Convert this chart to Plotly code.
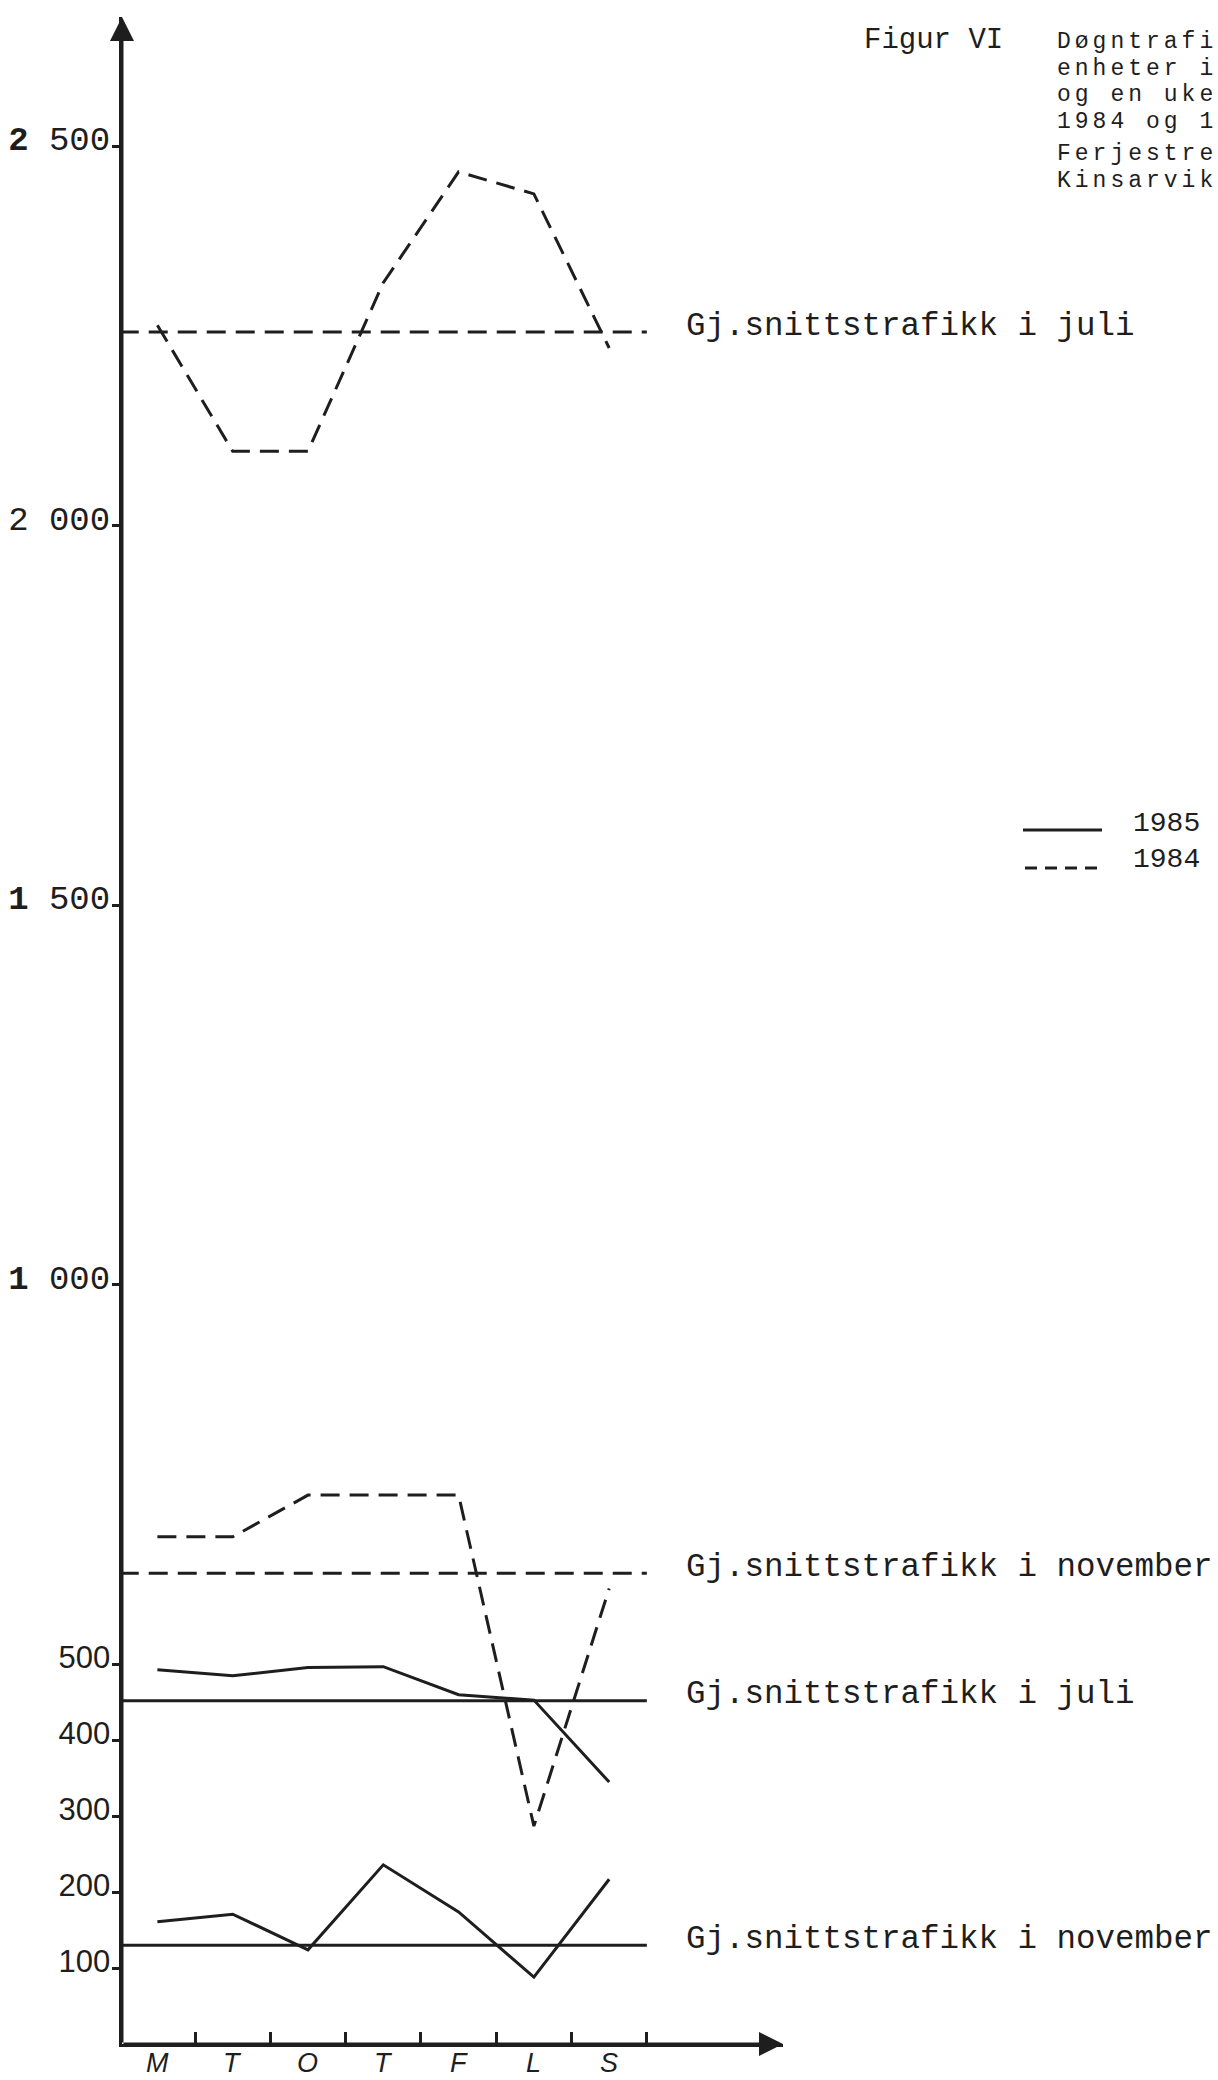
import plotly.graph_objects as go

# ---------------- data ----------------
days = ["M", "T", "O", "T", "F", "L", "S"]

juli_1984 = [2264, 2098, 2098, 2320, 2466, 2437, 2234]
nov_1984 = [668, 668, 723, 723, 723, 287, 600]
juli_1985 = [493, 485, 496, 497, 460, 453, 345]
nov_1985 = [161, 171, 124, 236, 174, 88, 217]

snitt_juli_1984 = 2255
snitt_nov_1984 = 620
snitt_juli_1985 = 452
snitt_nov_1985 = 130

y_tick_values = [100, 200, 300, 400, 500, 1000, 1500, 2000, 2500]
y_tick_labels = ["100", "200", "300", "400", "500", "1 000", "1 500", "2 000", "2 500"]

label_juli = "Gj.snittstrafikk i juli"
label_nov = "Gj.snittstrafikk i november"

figure_label = "Figur VI"
title_lines = ["Døgntrafi", "enheter i", "og en uke", "1984 og 1", "Ferjestre", "Kinsarvik"]

legend_names = ["1985", "1984"]

# ---------------- styling / geometry ----------------
W, H = 1218, 2080
PLOT_L, PLOT_R, PLOT_T, PLOT_B = 122, 783, 17, 2044   # window pixels
ML, MT = PLOT_L, PLOT_T
MR, MB = W - PLOT_R, H - PLOT_B
PW, PH = PLOT_R - PLOT_L, PLOT_B - PLOT_T
X_MIN = -0.47
X_MAX = X_MIN + PW / 75.3
Y_MAX = 2670

INK = "#1e1e1e"
TYPE = "Liberation Mono"
HAND = "Liberation Sans"
DASH = "19px,10px"
LW = 3


def wx(px):   # window pixel x -> paper
    return (px - PLOT_L) / PW


def wy(py):   # window pixel y -> paper
    return 1 - (py - PLOT_T) / PH


x = list(range(len(days)))
span = [-0.5, len(days) - 0.5]

fig = go.Figure()


def add_line(yvals, dashed, name):
    fig.add_trace(go.Scatter(
        x=x, y=yvals, mode="lines", name=name, showlegend=False,
        line=dict(color=INK, width=LW, dash=DASH if dashed else "solid"),
        hoverinfo="skip"))


def add_avg(val, dashed, name):
    fig.add_trace(go.Scatter(
        x=span, y=[val, val], mode="lines", name=name, showlegend=False,
        line=dict(color=INK, width=LW, dash=DASH if dashed else "solid"),
        hoverinfo="skip"))


add_line(juli_1984, True, "1984 juli")
add_line(nov_1984, True, "1984 november")
add_line(juli_1985, False, "1985 juli")
add_line(nov_1985, False, "1985 november")
add_avg(snitt_juli_1984, True, "1984 snitt juli")
add_avg(snitt_nov_1984, True, "1984 snitt november")
add_avg(snitt_juli_1985, False, "1985 snitt juli")
add_avg(snitt_nov_1985, False, "1985 snitt november")

# tick labels: large values typewritten, small values hand lettered
ticktext = []
for v, t in zip(y_tick_values, y_tick_labels):
    if v < 1000:
        ticktext.append('<span style="font-family:Liberation Sans;font-size:31px">%s</span>' % t)
    else:
        first, rest = t.split(" ")
        ticktext.append("<b>%s</b> %s" % (first, rest) if (first != "2" or v == 2500) else t)

annotations = []
# day labels under the x axis (hand lettered)
for i, d in zip(x, days):
    annotations.append(dict(x=i, y=wy(2063), xref="x", yref="paper", text="<i>%s</i>" % d,
                            showarrow=False, xanchor="center", yanchor="middle",
                            font=dict(family=HAND, size=27, color=INK)))

# average labels
for val, txt in [(snitt_juli_1984, label_juli), (snitt_nov_1984, label_nov),
                 (snitt_juli_1985, label_juli), (snitt_nov_1985, label_nov)]:
    annotations.append(dict(x=len(days), y=val, xref="x", yref="y", text=txt,
                            showarrow=False, xanchor="left", yanchor="middle", yshift=6,
                            font=dict(family=TYPE, size=32.5, color=INK)))

# figure label + title block (typewriter, single spaced)
annotations.append(dict(x=wx(862), y=wy(41), xref="paper", yref="paper", text=figure_label,
                        showarrow=False, xanchor="left", yanchor="middle",
                        font=dict(family=TYPE, size=29, color=INK)))


def block(lines):
    return "<br>".join('<span style="font-size:23px;letter-spacing:4px">%s</span>' % s
                       for s in lines)


annotations.append(dict(x=wx(1055), y=wy(82), xref="paper", yref="paper", text=block(title_lines[:4]),
                        showarrow=False, xanchor="left", yanchor="middle", align="left",
                        font=dict(family=TYPE, size=20.4, color=INK)))
annotations.append(dict(x=wx(1055), y=wy(168), xref="paper", yref="paper", text=block(title_lines[4:]),
                        showarrow=False, xanchor="left", yanchor="middle", align="left",
                        font=dict(family=TYPE, size=20.4, color=INK)))

# legend key
shapes = [
    dict(type="line", xref="paper", yref="paper", x0=wx(1023), x1=wx(1102), y0=wy(830), y1=wy(830),
         line=dict(color=INK, width=LW)),
    dict(type="line", xref="paper", yref="paper", x0=wx(1025), x1=wx(1097), y0=wy(868), y1=wy(868),
         line=dict(color=INK, width=LW, dash="12px,8px")),
]
for ty, name in zip([823, 860], legend_names):
    annotations.append(dict(x=wx(1131), y=wy(ty), xref="paper", yref="paper", text=name,
                            showarrow=False, xanchor="left", yanchor="middle",
                            font=dict(family=TYPE, size=28, color=INK)))

# axes drawn as arrows
annotations.append(dict(x=X_MIN, y=Y_MAX, ax=X_MIN, ay=0, xref="x", yref="y",
                        axref="x", ayref="y", text="", showarrow=True, arrowhead=2,
                        arrowsize=1.6, arrowwidth=3, arrowcolor=INK))
annotations.append(dict(x=X_MAX, y=0, ax=X_MIN, ay=0, xref="x", yref="y",
                        axref="x", ayref="y", text="", showarrow=True, arrowhead=2,
                        arrowsize=1.6, arrowwidth=3, arrowcolor=INK))

fig.update_layout(
    width=W, height=H,
    margin=dict(l=ML, r=MR, t=MT, b=MB, autoexpand=False),
    paper_bgcolor="white", plot_bgcolor="white",
    font=dict(family=TYPE, color=INK),
    showlegend=False,
    annotations=annotations,
    shapes=shapes,
    xaxis=dict(range=[X_MIN, X_MAX], showgrid=False, zeroline=False, automargin=False,
               showline=True, linewidth=LW, linecolor=INK,
               tickmode="array", tickvals=x, showticklabels=False, ticks="",
               minor=dict(tickmode="array", tickvals=[i + 0.5 for i in x],
                          ticks="inside", ticklen=12, tickwidth=3, tickcolor=INK)),
    yaxis=dict(range=[0, Y_MAX], showgrid=False, zeroline=False, automargin=False,
               showline=True, linewidth=LW, linecolor=INK,
               tickmode="array", tickvals=y_tick_values, ticktext=ticktext,
               ticks="outside", ticklen=7, tickwidth=3, tickcolor=INK,
               ticklabelshift=-8, ticklabelstandoff=-5,
               tickfont=dict(family=TYPE, size=34, color=INK)),
)

fig.write_html("out.html", config={"displayModeBar": False},
               post_script="document.body.style.margin='0';document.body.style.overflow='hidden';")
